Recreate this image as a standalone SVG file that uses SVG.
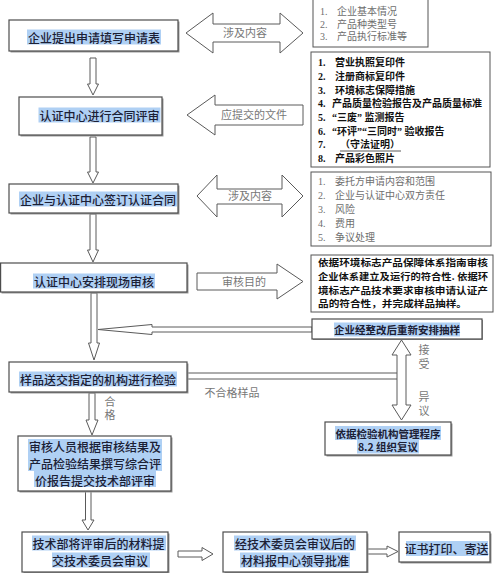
<svg xmlns="http://www.w3.org/2000/svg" width="500" height="573" viewBox="0 0 500 573">
<style>
.box{fill:#fff;stroke:#4d4d4d;stroke-width:1.2}
.sh{fill:#9a9a9a}
.lst{fill:#fff;stroke:#555;stroke-width:1}
.hl{fill:#afd0f4}
.t{font-family:"Noto Sans CJK SC",sans-serif;font-size:12px;fill:#1c2035;text-anchor:middle;dominant-baseline:central;font-weight:500}
.ts{font-family:"Noto Sans CJK SC",sans-serif;font-size:10.5px;fill:#1c2035;text-anchor:middle;dominant-baseline:central;font-weight:700}
.g{font-family:"Liberation Serif","Noto Sans CJK SC",serif;font-size:10px;fill:#6e6e6e;dominant-baseline:central}
.b{font-family:"Liberation Serif","Noto Sans CJK SC",serif;font-size:10px;fill:#111;dominant-baseline:central;font-weight:700}
.bt{font-family:"Noto Sans CJK SC",sans-serif;font-size:9.5px;fill:#111;dominant-baseline:central;font-weight:700}
.lbl{font-family:"Liberation Serif","Noto Sans CJK SC",serif;font-size:11px;fill:#777;text-anchor:middle;dominant-baseline:central}
.ar{fill:#fff;stroke:#5a5a5a;stroke-width:1;stroke-linejoin:miter}
.ln{stroke:#5a5a5a;stroke-width:1;fill:none}
</style>

<g id="connectors">
  <polygon class="ar" points="90,58 96,58 96,84 98.5,84 93,95 87.5,84 90,84"/>
  <polygon class="ar" points="90,137 96,137 96,172 98.5,172 93,183 87.5,172 90,172"/>
  <polygon class="ar" points="90,214 96,214 96,250 98.5,250 93,262 87.5,250 90,250"/>
  <polygon class="ar" points="91,293 97,293 97,343 99.5,343 94,360 88.5,343 91,343"/>
  <polygon class="ar" points="89,393 95,393 95,420 98,420 92,435 86,420 89,420"/>
  <polygon class="ar" points="85.5,491 91,491 91,520 94,520 88,530 82,520 85.5,520"/>
  <polygon class="ar" points="186,33 213,13 213,24 280,24 280,13 303,33 280,53 280,42 213,42 213,53"/>
  <polygon class="ar" points="187,115 215,95 215,105 303,105 303,125 215,125 215,135"/>
  <polygon class="ar" points="197,196 217,175 217,189 282,189 282,175 303,196 282,217 282,204 217,204 217,217"/>
  <polygon class="ar" points="197,273 277,273 277,264 303,281.5 277,299 277,290 197,290"/>
  <polygon class="ar" points="312,327 152,327 152,324.5 98,329.5 152,334.5 152,332 312,332"/>
  <line class="ln" x1="187" y1="373" x2="397" y2="373"/>
  <line class="ln" x1="187" y1="379" x2="397" y2="379"/>
  <polygon class="ar" points="401.5,340 411,355 406,355 406,405 411,405 401.5,420 392,405 397,405 397,355 392,355"/>
  <polygon class="ar" points="178,551 202,551 202,547.5 213,554 202,560.5 202,557 178,557"/>
  <polygon class="ar" points="367,549 387,549 387,546 398,551.5 387,557 387,554 367,554"/>
  <text class="lbl" x="245" y="33">涉及内容</text>
  <text class="lbl" x="254" y="115">应提交的文件</text>
  <text class="lbl" x="250" y="196">涉及内容</text>
  <text class="lbl" x="244" y="281.5" font-size="10.5">审核目的</text>
  <text class="lbl" x="232" y="393" font-size="10">不合格样品</text>
  <text class="lbl" x="110" y="402">合</text>
  <text class="lbl" x="110" y="415">格</text>
  <text class="lbl" x="424" y="350">接</text>
  <text class="lbl" x="424" y="364">受</text>
  <text class="lbl" x="424" y="397">异</text>
  <text class="lbl" x="424" y="411">议</text>
</g>

<g id="n-apply">
  <rect class="sh" x="10.5" y="21.5" width="169" height="31"/>
  <rect class="box" x="9" y="20" width="169" height="31"/>
  <rect class="hl" x="27" y="29.5" width="134" height="15"/>
  <text class="t" x="94" y="37">企业提出申请填写申请表</text>
</g>

<g id="n-contract-review">
  <rect class="sh" x="20.5" y="98.5" width="143" height="38"/>
  <rect class="box" x="19" y="97" width="143" height="38"/>
  <rect class="hl" x="38.5" y="107.5" width="122" height="15"/>
  <text class="t" x="99.5" y="115">认证中心进行合同评审</text>
</g>

<g id="n-sign">
  <rect class="sh" x="10.5" y="185.5" width="169" height="29"/>
  <rect class="box" x="9" y="184" width="169" height="29"/>
  <rect class="hl" x="19" y="191.5" width="158" height="15"/>
  <text class="t" x="98" y="199">企业与认证中心签订认证合同</text>
</g>

<g id="n-audit">
  <rect class="sh" x="1.5" y="264.5" width="187" height="29"/>
  <rect class="box" x="0.6" y="263" width="186.4" height="29"/>
  <rect class="hl" x="33" y="273.5" width="122" height="15"/>
  <text class="t" x="94" y="281">认证中心安排现场审核</text>
</g>

<g id="n-sample">
  <rect class="sh" x="10.5" y="363.5" width="178" height="30"/>
  <rect class="box" x="9" y="362" width="178" height="30"/>
  <rect class="hl" x="19" y="371.5" width="158" height="15"/>
  <text class="t" x="98" y="379">样品送交指定的机构进行检验</text>
</g>

<g id="n-report">
  <rect class="sh" x="19.5" y="437.5" width="153" height="55"/>
  <rect class="box" x="18" y="436" width="153" height="55"/>
  <rect class="hl" x="28" y="439" width="134" height="15"/>
  <rect class="hl" x="28" y="454" width="134" height="17"/>
  <rect class="hl" x="34" y="471" width="122" height="16"/>
  <text class="t" x="95" y="446">审核人员根据审核结果及</text>
  <text class="t" x="95" y="463">产品检验结果撰写综合评</text>
  <text class="t" x="95" y="480">价报告提交技术部评审</text>
</g>

<g id="n-tech">
  <rect class="sh" x="23.5" y="533.5" width="146" height="40"/>
  <rect class="box" x="22" y="532" width="146" height="40"/>
  <rect class="hl" x="32" y="535.5" width="134" height="15"/>
  <rect class="hl" x="52" y="552.5" width="98" height="15"/>
  <text class="t" x="98.5" y="543">技术部将评审后的材料提</text>
  <text class="t" x="100" y="560">交技术委员会审议</text>
</g>

<g id="n-approve">
  <rect class="sh" x="224.5" y="533.5" width="144" height="40"/>
  <rect class="box" x="223" y="532" width="144" height="40"/>
  <rect class="hl" x="234" y="535.5" width="122" height="15"/>
  <rect class="hl" x="240" y="552.5" width="110" height="15"/>
  <text class="t" x="295" y="543">经技术委员会审议后的</text>
  <text class="t" x="295" y="560">材料报中心领导批准</text>
</g>

<g id="n-cert">
  <rect class="sh" x="400.5" y="533.5" width="91" height="30"/>
  <rect class="box" x="399" y="532" width="91" height="30"/>
  <rect class="hl" x="406" y="541" width="82" height="15"/>
  <text class="t" x="446.5" y="548.5" font-size="11.3">证书打印、寄送</text>
</g>

<g id="n-list-apply">
  <rect class="lst" x="313" y="-1" width="115" height="48"/>
  <text class="g" y="11"><tspan x="320">1.</tspan><tspan x="337">企业基本情况</tspan></text>
  <text class="g" y="23.5"><tspan x="320">2.</tspan><tspan x="337">产品种类型号</tspan></text>
  <text class="g" y="36"><tspan x="320">3.</tspan><tspan x="337">产品执行标准等</tspan></text>
</g>

<g id="n-list-docs">
  <rect class="lst" x="311" y="52" width="179" height="115"/>
  <text class="b" y="62"><tspan x="318">1.</tspan><tspan x="335">营业执照复印件</tspan></text>
  <text class="b" y="76"><tspan x="318">2.</tspan><tspan x="335">注册商标复印件</tspan></text>
  <text class="b" y="89.5"><tspan x="318">3.</tspan><tspan x="335">环境标志保障措施</tspan></text>
  <text class="b" y="103"><tspan x="318">4.</tspan><tspan x="332">产品质量检验报告及产品质量标准</tspan></text>
  <text class="b" y="117"><tspan x="318">5.</tspan><tspan x="332">“三废” 监测报告</tspan></text>
  <text class="b" y="130.5"><tspan x="318">6.</tspan><tspan x="332">“环评”“三同时” 验收报告</tspan></text>
  <text class="b" y="144"><tspan x="318">7.</tspan><tspan x="340">（守法证明）</tspan></text>
  <line class="ln" x1="340" y1="151" x2="401" y2="151"/>
  <text class="b" y="158"><tspan x="318">8.</tspan><tspan x="335">产品彩色照片</tspan></text>
</g>

<g id="n-list-contract">
  <rect class="lst" x="311" y="172" width="180" height="74"/>
  <text class="g" y="181"><tspan x="318">1.</tspan><tspan x="335">委托方申请内容和范围</tspan></text>
  <text class="g" y="195"><tspan x="318">2.</tspan><tspan x="335">企业与认证中心双方责任</tspan></text>
  <text class="g" y="209"><tspan x="318">3.</tspan><tspan x="335">风险</tspan></text>
  <text class="g" y="223"><tspan x="318">4.</tspan><tspan x="335">费用</tspan></text>
  <text class="g" y="237"><tspan x="318">5.</tspan><tspan x="335">争议处理</tspan></text>
</g>

<g id="n-audit-purpose">
  <rect class="lst" x="311" y="255" width="182" height="57"/>
  <text class="bt" x="318" y="262" textLength="170" lengthAdjust="spacingAndGlyphs">依据环境标志产品保障体系指南审核</text>
  <text class="bt" x="318" y="275.8" textLength="170" lengthAdjust="spacingAndGlyphs">企业体系建立及运行的符合性. 依据环</text>
  <text class="bt" x="318" y="289.6" textLength="170" lengthAdjust="spacingAndGlyphs">境标志产品技术要求审核申请认证产</text>
  <text class="bt" x="318" y="303.4" textLength="149" lengthAdjust="spacingAndGlyphs">品的符合性，并完成样品抽样。</text>
</g>

<g id="n-rework">
  <rect class="sh" x="313" y="320" width="170" height="20"/>
  <rect class="box" x="312" y="319" width="170" height="20"/>
  <rect class="hl" x="334" y="322.5" width="126" height="14"/>
  <text class="ts" x="397" y="329.5">企业经整改后重新安排抽样</text>
</g>

<g id="n-reconsider">
  <rect class="sh" x="326.5" y="423.5" width="126" height="33"/>
  <rect class="box" x="325" y="422" width="126" height="33"/>
  <rect class="hl" x="335" y="426" width="106" height="14"/>
  <rect class="hl" x="357" y="439.5" width="62" height="14"/>
  <text class="ts" x="388" y="433">依据检验机构管理程序</text>
  <text class="ts" x="388" y="446.5">8.2 组织复议</text>
</g>
</svg>
